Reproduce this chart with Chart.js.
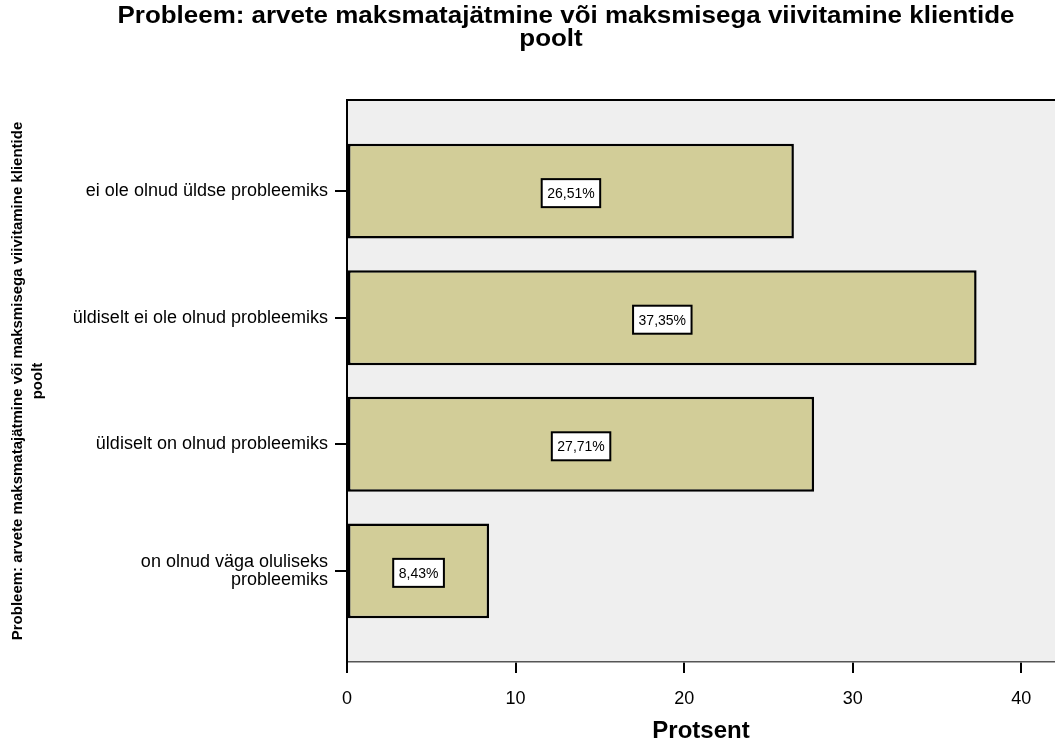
<!DOCTYPE html>
<html>
<head>
<meta charset="utf-8">
<script src="https://cdn.jsdelivr.net/npm/chart.js@4"></script>
<style>
  body { margin: 0; background: #fff; }
  #wrap { width: 1055px; height: 746px; position: relative; }
</style>
</head>
<body>
<div id="wrap"><canvas id="chart"></canvas></div>
<script>
// andmed
const categories = [
  'ei ole olnud üldse probleemiks',
  'üldiselt ei ole olnud probleemiks',
  'üldiselt on olnud probleemiks',
  ['on olnud väga oluliseks', 'probleemiks'],
];
const percents = [26.51, 37.35, 27.71, 8.43];
const valueLabels = ['26,51%', '37,35%', '27,71%', '8,43%'];
const xTicks = [0, 10, 20, 30, 40];

const titleLines = [
  'Probleem: arvete maksmatajätmine või maksmisega viivitamine klientide',
  'poolt',
];
const yTitle = [
  'Probleem: arvete maksmatajätmine või maksmisega viivitamine klientide',
  'poolt',
];

const FONT = "Arial, 'Liberation Sans', sans-serif";

// taust, ülemine joon ja pealkiri
const framePlugin = {
  id: 'frame',
  beforeDraw(chart) {
    const { ctx, chartArea: a } = chart;
    ctx.save();
    ctx.fillStyle = '#efefef';
    ctx.fillRect(a.left, a.top, a.right - a.left, a.bottom - a.top);
    ctx.restore();
  },
  afterDraw(chart) {
    const { ctx, chartArea: a } = chart;
    ctx.save();
    ctx.strokeStyle = '#000';
    ctx.lineWidth = 2;
    ctx.beginPath();
    ctx.moveTo(a.left, a.top);
    ctx.lineTo(a.right, a.top);
    ctx.stroke();

    // pealkiri on originaalis laiem, venitame veidi
    ctx.fillStyle = '#000';
    ctx.font = 'bold 23px ' + FONT;
    ctx.textAlign = 'center';
    ctx.textBaseline = 'middle';
    const sx = 897 / ctx.measureText(titleLines[0]).width;
    ctx.translate(566, 0);
    ctx.scale(sx, 1);
    ctx.fillText(titleLines[0], 0, 17);
    ctx.fillText(titleLines[1], -15 / sx, 40);
    ctx.restore();
  },
};

// väärtuste sildid kastis
const boxLabels = {
  id: 'boxLabels',
  afterDatasetsDraw(chart) {
    const { ctx } = chart;
    const meta = chart.getDatasetMeta(0);
    ctx.save();
    ctx.font = '14px ' + FONT;
    ctx.textAlign = 'center';
    ctx.textBaseline = 'middle';
    meta.data.forEach((bar, i) => {
      const cx = (bar.x + bar.base) / 2;
      const cy = bar.y + 2;
      const w = ctx.measureText(valueLabels[i]).width + 11;
      const h = 28;
      ctx.fillStyle = '#fff';
      ctx.fillRect(cx - w / 2, cy - h / 2, w, h);
      ctx.strokeStyle = '#000';
      ctx.lineWidth = 2;
      ctx.strokeRect(cx - w / 2, cy - h / 2, w, h);
      ctx.fillStyle = '#000';
      ctx.fillText(valueLabels[i], cx, cy + 1);
    });
    ctx.restore();
  },
};

new Chart(document.getElementById('chart'), {
  type: 'bar',
  data: {
    datasets: [{
      data: percents.map((v, i) => ({ x: v, y: i })),
      backgroundColor: '#d2cd98',
      borderColor: '#000',
      borderWidth: 2.5,
      borderSkipped: false,
      barPercentage: 0.75,
      categoryPercentage: 1,
    }],
  },
  options: {
    indexAxis: 'y',
    responsive: true,
    maintainAspectRatio: false,
    animation: false,
    layout: { padding: { top: 100, left: 0, right: 0, bottom: 0 } },
    plugins: {
      legend: { display: false },
      title: { display: false },
      tooltip: { enabled: false },
    },
    scales: {
      x: {
        type: 'linear',
        min: 0,
        max: 42,
        afterFit: (s) => { s.height = 84; },
        afterBuildTicks: (s) => { s.ticks = xTicks.map((v) => ({ value: v })); },
        grid: {
          drawOnChartArea: false,
          drawTicks: true,
          tickLength: 11,
          color: '#000',
          lineWidth: 2,
        },
        border: { display: true, color: '#555', width: 1.5 },
        ticks: {
          color: '#000',
          font: { family: FONT, size: 18 },
          padding: 15,
        },
        title: {
          display: true,
          text: 'Protsent',
          color: '#000',
          font: { family: FONT, size: 24, weight: 'bold' },
          padding: { top: 0, bottom: 0 },
        },
      },
      y: {
        type: 'linear',
        reverse: true,
        min: -0.72,
        max: 3.72,
        offset: false,
        afterFit: (s) => { s.width = 347; },
        afterBuildTicks: (s) => { s.ticks = categories.map((c, i) => ({ value: i })); },
        grid: {
          offset: false,
          drawOnChartArea: false,
          drawTicks: true,
          tickLength: 12,
          color: '#000',
          lineWidth: 2,
        },
        border: { display: true, color: '#000', width: 2 },
        ticks: {
          color: '#000',
          font: { family: FONT, size: 18, lineHeight: 1.0 },
          padding: 7,
          callback: (v) => categories[v],
        },
        title: {
          display: true,
          text: yTitle,
          color: '#000',
          font: { family: FONT, size: 15, weight: 'bold', lineHeight: 1.33 },
          padding: { top: 8, bottom: 0 },
        },
      },
    },
  },
  plugins: [framePlugin, boxLabels],
});
</script>
</body>
</html>
